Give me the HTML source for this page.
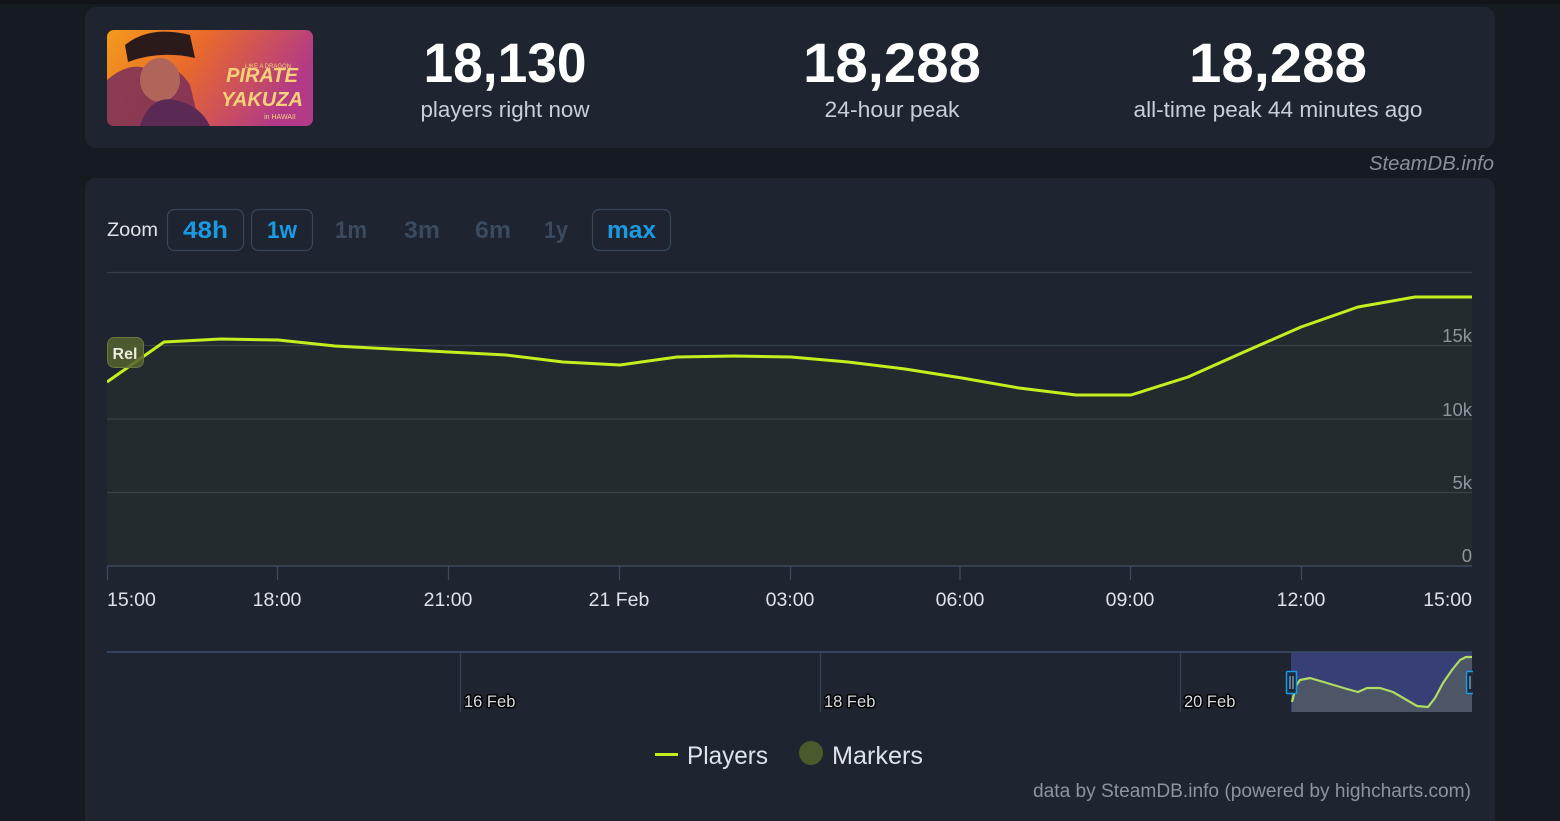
<!DOCTYPE html>
<html>
<head>
<meta charset="utf-8">
<style>
  html,body{margin:0;padding:0;background:#161a21;}
  body{width:1560px;height:821px;overflow:hidden;font-family:"Liberation Sans",sans-serif;}
  svg{display:block;}
  text{font-family:"Liberation Sans",sans-serif;}
</style>
</head>
<body>
<svg width="1560" height="821" viewBox="0 0 1560 821" xmlns="http://www.w3.org/2000/svg">
  <defs>
    <linearGradient id="thumb" x1="0" y1="0" x2="1" y2="0.3">
      <stop offset="0" stop-color="#f39a1c"/>
      <stop offset="0.45" stop-color="#ea6a2a"/>
      <stop offset="1" stop-color="#b23a86"/>
    </linearGradient>
    <clipPath id="thumbclip"><rect x="107" y="30" width="206" height="96" rx="7"/></clipPath>
    <clipPath id="plotclip"><rect x="107" y="260" width="1366" height="306"/></clipPath>
  </defs>

  <!-- background -->
  <rect x="0" y="0" width="1560" height="821" fill="#161a21"/>
  <rect x="0" y="0" width="1560" height="4" fill="#12141a"/>

  <!-- top card -->
  <rect x="85" y="7" width="1410" height="141" rx="11" fill="#1e2530"/>

  <!-- thumbnail -->
  <g clip-path="url(#thumbclip)">
    <rect x="107" y="30" width="206" height="96" fill="url(#thumb)"/>
    <path d="M107 126 L107 80 Q130 60 150 70 Q175 60 190 85 L200 126 Z" fill="#7a2f5a" opacity="0.85"/>
    <path d="M125 45 Q150 25 190 35 L195 58 Q160 50 128 62 Z" fill="#2a1a1a"/>
    <ellipse cx="160" cy="80" rx="20" ry="22" fill="#b0655a"/>
    <path d="M140 126 Q150 95 175 100 Q200 105 210 126 Z" fill="#5a2a55"/>
    <text x="262" y="82" fill="#f5d27a" font-family="Liberation Serif,serif" font-weight="bold" font-size="20" text-anchor="middle" font-style="italic">PIRATE</text>
    <text x="262" y="106" fill="#f5d27a" font-family="Liberation Serif,serif" font-weight="bold" font-size="20" text-anchor="middle" font-style="italic">YAKUZA</text>
    <text x="280" y="119" fill="#f5d27a" font-family="Liberation Serif,serif" font-size="7" text-anchor="middle">in HAWAII</text>
    <text x="268" y="68" fill="#f5d27a" font-family="Liberation Serif,serif" font-size="6" text-anchor="middle">LIKE A DRAGON</text>
  </g>

  <!-- stats -->
  <text x="505" y="82" fill="#ffffff" font-weight="bold" font-size="56" text-anchor="middle" textLength="163" lengthAdjust="spacingAndGlyphs">18,130</text>
  <text x="505" y="117" fill="#c9cfd7" font-size="22" text-anchor="middle" textLength="169" lengthAdjust="spacingAndGlyphs">players right now</text>

  <text x="892" y="82" fill="#ffffff" font-weight="bold" font-size="56" text-anchor="middle" textLength="178" lengthAdjust="spacingAndGlyphs">18,288</text>
  <text x="892" y="117" fill="#c9cfd7" font-size="22" text-anchor="middle" textLength="135" lengthAdjust="spacingAndGlyphs">24-hour peak</text>

  <text x="1278" y="82" fill="#ffffff" font-weight="bold" font-size="56" text-anchor="middle" textLength="178" lengthAdjust="spacingAndGlyphs">18,288</text>
  <text x="1278" y="117" fill="#c9cfd7" font-size="22" text-anchor="middle" textLength="289" lengthAdjust="spacingAndGlyphs">all-time peak 44 minutes ago</text>

  <text x="1494" y="170" fill="#8b9098" font-size="20" font-style="italic" text-anchor="end" textLength="125" lengthAdjust="spacingAndGlyphs">SteamDB.info</text>

  <!-- chart card -->
  <rect x="85" y="178" width="1410" height="660" rx="11" fill="#1e2530"/>

  <!-- zoom row -->
  <text x="107" y="236" fill="#dfe3e8" font-size="19.5" textLength="51" lengthAdjust="spacingAndGlyphs">Zoom</text>
  <rect x="167.5" y="209.5" width="76" height="41" rx="7" fill="none" stroke="#37465a" stroke-width="1.2"/>
  <text x="205.5" y="238" fill="#1b9ae4" font-weight="bold" font-size="24" text-anchor="middle" textLength="45" lengthAdjust="spacingAndGlyphs">48h</text>
  <rect x="251.5" y="209.5" width="61" height="41" rx="7" fill="none" stroke="#37465a" stroke-width="1.2"/>
  <text x="282" y="238" fill="#1b9ae4" font-weight="bold" font-size="24" text-anchor="middle" textLength="30" lengthAdjust="spacingAndGlyphs">1w</text>
  <text x="351" y="238" fill="#3b4a5d" font-weight="bold" font-size="24" text-anchor="middle" textLength="32" lengthAdjust="spacingAndGlyphs">1m</text>
  <text x="422" y="238" fill="#3b4a5d" font-weight="bold" font-size="24" text-anchor="middle" textLength="36" lengthAdjust="spacingAndGlyphs">3m</text>
  <text x="493" y="238" fill="#3b4a5d" font-weight="bold" font-size="24" text-anchor="middle" textLength="36" lengthAdjust="spacingAndGlyphs">6m</text>
  <text x="556" y="238" fill="#3b4a5d" font-weight="bold" font-size="24" text-anchor="middle" textLength="24" lengthAdjust="spacingAndGlyphs">1y</text>
  <rect x="592.5" y="209.5" width="78" height="41" rx="7" fill="none" stroke="#37465a" stroke-width="1.2"/>
  <text x="631.5" y="238" fill="#1b9ae4" font-weight="bold" font-size="24" text-anchor="middle" textLength="49" lengthAdjust="spacingAndGlyphs">max</text>

  <!-- grid -->
  <g stroke="#343d4a" stroke-width="1.3">
    <line x1="107" y1="272.5" x2="1472" y2="272.5"/>
    <line x1="107" y1="345.5" x2="1472" y2="345.5"/>
    <line x1="107" y1="419" x2="1472" y2="419"/>
    <line x1="107" y1="492.5" x2="1472" y2="492.5"/>
  </g>

  <!-- area + line -->
  <g clip-path="url(#plotclip)">
    <path d="M107 382 L164 342 L221 339 L278 340 L335 346 L392 349 L449 352 L506 355 L563 362 L620 365 L677 357 L734 356 L791 357 L848 362 L905 369 L962 378 L1019 388 L1076 395 L1131 395 L1188 377 L1244 352 L1301 327 L1358 307 L1415 297 L1472 297 L1472 566 L107 566 Z" fill="#c2ed1c" fill-opacity="0.035"/>
    <path d="M107 382 L164 342 L221 339 L278 340 L335 346 L392 349 L449 352 L506 355 L563 362 L620 365 L677 357 L734 356 L791 357 L848 362 L905 369 L962 378 L1019 388 L1076 395 L1131 395 L1188 377 L1244 352 L1301 327 L1358 307 L1415 297 L1472 297" fill="none" stroke="#c4ef1e" stroke-width="3" stroke-linejoin="round"/>
  </g>

  <!-- Rel marker -->
  <rect x="107.5" y="337.5" width="36" height="30" rx="7" fill="#55632f" fill-opacity="0.85" stroke="#6a7a3a" stroke-width="1"/>
  <text x="125" y="359" fill="#e9eedf" font-weight="bold" font-size="16" text-anchor="middle">Rel</text>

  <!-- y labels -->
  <g fill="#8d949d" font-size="18.5" text-anchor="end">
    <text x="1472" y="342">15k</text>
    <text x="1472" y="416">10k</text>
    <text x="1472" y="489">5k</text>
    <text x="1472" y="562">0</text>
  </g>

  <!-- x axis -->
  <line x1="107" y1="566" x2="1472" y2="566" stroke="#3c4a5e" stroke-width="1.5"/>
  <g stroke="#3c4a5e" stroke-width="1.3">
    <line x1="107.5" y1="566" x2="107.5" y2="580"/>
    <line x1="277.5" y1="566" x2="277.5" y2="580"/>
    <line x1="448.5" y1="566" x2="448.5" y2="580"/>
    <line x1="619.5" y1="566" x2="619.5" y2="580"/>
    <line x1="790.5" y1="566" x2="790.5" y2="580"/>
    <line x1="960" y1="566" x2="960" y2="580"/>
    <line x1="1130.5" y1="566" x2="1130.5" y2="580"/>
    <line x1="1301.5" y1="566" x2="1301.5" y2="580"/>
  </g>
  <g fill="#dde2e8" font-size="19.5">
    <text x="107" y="606">15:00</text>
    <text x="277" y="606" text-anchor="middle">18:00</text>
    <text x="448" y="606" text-anchor="middle">21:00</text>
    <text x="619" y="606" text-anchor="middle">21 Feb</text>
    <text x="790" y="606" text-anchor="middle">03:00</text>
    <text x="960" y="606" text-anchor="middle">06:00</text>
    <text x="1130" y="606" text-anchor="middle">09:00</text>
    <text x="1301" y="606" text-anchor="middle">12:00</text>
    <text x="1472" y="606" text-anchor="end">15:00</text>
  </g>

  <!-- navigator -->
  <g stroke="#34435a" stroke-width="1.2">
    <line x1="460.5" y1="652" x2="460.5" y2="712"/>
    <line x1="820.5" y1="652" x2="820.5" y2="712"/>
    <line x1="1180.5" y1="652" x2="1180.5" y2="712"/>
  </g>
  <rect x="1291" y="652" width="181" height="60" fill="#373f76"/>
  <path d="M1292 702 L1296 686 L1300 680 L1310 678 L1327 683 L1347 689 L1358 692 L1367 688 L1380 688 L1393 692 L1405 699 L1417 706 L1428 707 L1435 698 L1443 683 L1452 670 L1460 660 L1466 657 L1472 657 L1472 712 L1292 712 Z" fill="#4c5667"/>
  <path d="M1292 702 L1296 686 L1300 680 L1310 678 L1327 683 L1347 689 L1358 692 L1367 688 L1380 688 L1393 692 L1405 699 L1417 706 L1428 707 L1435 698 L1443 683 L1452 670 L1460 660 L1466 657 L1472 657" fill="none" stroke="#b0dc62" stroke-width="2.2" stroke-linejoin="round"/>
  <line x1="107" y1="652" x2="1472" y2="652" stroke="#3a4e68" stroke-width="1.5"/>
  <!-- handles -->
  <rect x="1286.5" y="671.5" width="10" height="22" rx="1" fill="#1c2a3c" stroke="#1b9ae4" stroke-width="1.5"/>
  <line x1="1290" y1="676" x2="1290" y2="689" stroke="#9fc8e8" stroke-width="1"/>
  <line x1="1293" y1="676" x2="1293" y2="689" stroke="#9fc8e8" stroke-width="1"/>
  <rect x="1466.5" y="671.5" width="10" height="22" rx="1" fill="#1c2a3c" stroke="#1b9ae4" stroke-width="1.5"/>
  <rect x="1473" y="660" width="22" height="60" fill="#1e2530"/>
  <line x1="1470" y1="676" x2="1470" y2="689" stroke="#9fc8e8" stroke-width="1"/>

  <g font-size="16.5" fill="#d8dde3" stroke="#000" stroke-width="3" stroke-linejoin="round" paint-order="stroke">
    <text x="464" y="707">16 Feb</text>
    <text x="824" y="707">18 Feb</text>
    <text x="1184" y="707">20 Feb</text>
  </g>

  <!-- legend -->
  <line x1="655" y1="754.5" x2="678" y2="754.5" stroke="#c4ef1e" stroke-width="3"/>
  <text x="687" y="764" fill="#dde3ea" font-size="25" textLength="81" lengthAdjust="spacingAndGlyphs">Players</text>
  <circle cx="811" cy="753" r="12" fill="#4b5a2b"/>
  <text x="832" y="764" fill="#dde3ea" font-size="25" textLength="91" lengthAdjust="spacingAndGlyphs">Markers</text>

  <!-- footer credit -->
  <text x="1471" y="797" fill="#8d949e" font-size="19" text-anchor="end" textLength="438" lengthAdjust="spacingAndGlyphs">data by SteamDB.info (powered by highcharts.com)</text>
</svg>
</body>
</html>
